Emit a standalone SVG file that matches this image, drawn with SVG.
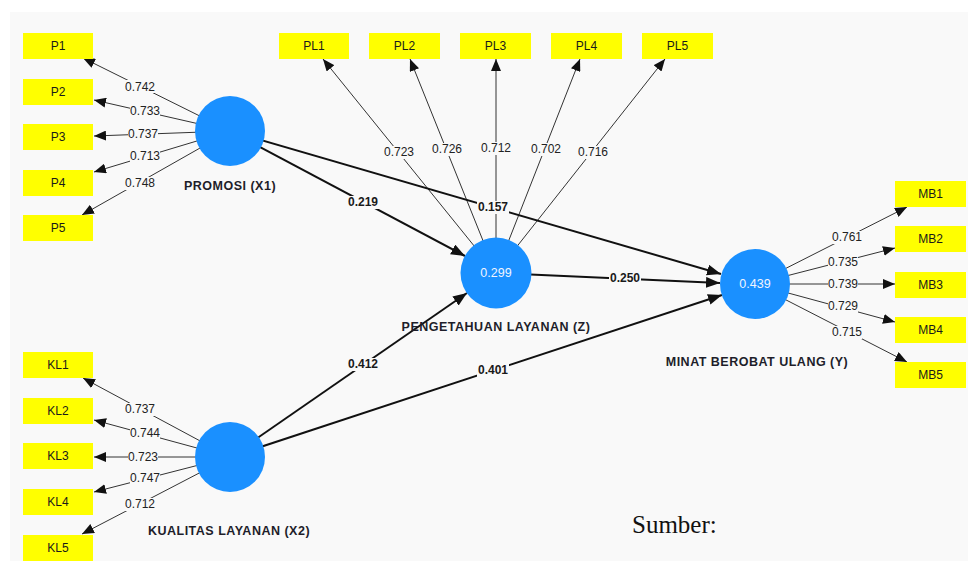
<svg xmlns="http://www.w3.org/2000/svg" width="968" height="561" viewBox="0 0 968 561">
  <style>
    .panel { fill: #f9f9f9; }
    .box { fill: #ffff00; }
    .boxtxt { font-family: "Liberation Sans", Arial, sans-serif; font-size: 12px; fill: #1a1a1a; text-anchor: middle; }
    .lv { fill: #1a90ff; }
    .lvtxt { font-family: "Liberation Sans", Arial, sans-serif; font-size: 12.5px; fill: #f0f4ff; text-anchor: middle; }
    .name { font-family: "Liberation Sans", Arial, sans-serif; font-size: 12.5px; font-weight: bold; letter-spacing: 0.5px; fill: #1e1e2a; text-anchor: middle; }
    .thin { stroke: #333; stroke-width: 1; fill: none; marker-end: url(#ah); }
    .thick { stroke: #111; stroke-width: 2; fill: none; marker-end: url(#ahb); }
    .lbl { font-family: "Liberation Sans", Arial, sans-serif; font-size: 12px; fill: #222; text-anchor: middle; }
    .lblb { font-family: "Liberation Sans", Arial, sans-serif; font-size: 12px; font-weight: bold; fill: #1a1a1a; text-anchor: middle; }
    .lbg { fill: #f9f9f9; }
    .src { font-family: "Liberation Serif", "Times New Roman", serif; font-size: 25px; fill: #111; }
  </style>
  <defs>
    <marker id="ah" markerUnits="userSpaceOnUse" markerWidth="12" markerHeight="10" viewBox="0 0 12 10" refX="12" refY="5" orient="auto">
      <path d="M0,0 L12,5 L0,10 Z" fill="#111"/>
    </marker>
    <marker id="ahb" markerUnits="userSpaceOnUse" markerWidth="14" markerHeight="11" viewBox="0 0 14 11" refX="14" refY="5.5" orient="auto">
      <path d="M0,0 L14,5.5 L0,11 Z" fill="#111"/>
    </marker>
  </defs>

  <rect class="panel" x="10" y="12" width="958" height="549"/>

  <!-- connectors: outer loadings and inner path coefficients -->
  <g id="connectors">
    <!-- PROMOSI (X1) loadings -->
    <line class="thin" x1="230" y1="131" x2="83" y2="58"/>
    <line class="thin" x1="230" y1="131" x2="94" y2="100"/>
    <line class="thin" x1="230" y1="131" x2="94" y2="136"/>
    <line class="thin" x1="230" y1="131" x2="94" y2="172"/>
    <line class="thin" x1="230" y1="131" x2="82" y2="215"/>
    <!-- KUALITAS LAYANAN (X2) loadings -->
    <line class="thin" x1="230" y1="457" x2="83" y2="378"/>
    <line class="thin" x1="230" y1="457" x2="94" y2="420"/>
    <line class="thin" x1="230" y1="457" x2="94" y2="457"/>
    <line class="thin" x1="230" y1="457" x2="94" y2="492"/>
    <line class="thin" x1="230" y1="457" x2="82" y2="534"/>
    <!-- PENGETAHUAN LAYANAN (Z) loadings -->
    <line class="thin" x1="496" y1="273" x2="323" y2="59"/>
    <line class="thin" x1="496" y1="273" x2="410" y2="59"/>
    <line class="thin" x1="496" y1="273" x2="496" y2="59"/>
    <line class="thin" x1="496" y1="273" x2="580" y2="59"/>
    <line class="thin" x1="496" y1="273" x2="665" y2="59"/>
    <!-- MINAT BEROBAT ULANG (Y) loadings -->
    <line class="thin" x1="755" y1="284" x2="907" y2="207"/>
    <line class="thin" x1="755" y1="284" x2="895" y2="248"/>
    <line class="thin" x1="755" y1="284" x2="895" y2="284"/>
    <line class="thin" x1="755" y1="284" x2="895" y2="322"/>
    <line class="thin" x1="755" y1="284" x2="907" y2="362"/>
    <!-- structural paths -->
    <line class="thick" x1="230" y1="131" x2="465" y2="256"/>
    <line class="thick" x1="230" y1="131" x2="721" y2="274"/>
    <line class="thick" x1="496" y1="273" x2="720" y2="283"/>
    <line class="thick" x1="230" y1="457" x2="467" y2="293"/>
    <line class="thick" x1="230" y1="457" x2="722" y2="295"/>

    <!-- loading labels -->
    <g>
      <rect class="lbg" x="125" y="80" width="30" height="13"/><text class="lbl" x="140" y="91">0.742</text>
      <rect class="lbg" x="130" y="105" width="30" height="13"/><text class="lbl" x="145" y="115">0.733</text>
      <rect class="lbg" x="128" y="128" width="30" height="13"/><text class="lbl" x="143" y="138">0.737</text>
      <rect class="lbg" x="130" y="150" width="30" height="13"/><text class="lbl" x="145" y="160">0.713</text>
      <rect class="lbg" x="125" y="177" width="30" height="13"/><text class="lbl" x="140" y="187">0.748</text>

      <rect class="lbg" x="125" y="403" width="30" height="13"/><text class="lbl" x="140" y="413">0.737</text>
      <rect class="lbg" x="130" y="427" width="30" height="13"/><text class="lbl" x="145" y="437">0.744</text>
      <rect class="lbg" x="128" y="451" width="30" height="13"/><text class="lbl" x="143" y="461">0.723</text>
      <rect class="lbg" x="130" y="472" width="30" height="13"/><text class="lbl" x="145" y="482">0.747</text>
      <rect class="lbg" x="125" y="498" width="30" height="13"/><text class="lbl" x="140" y="508">0.712</text>

      <rect class="lbg" x="384" y="146" width="30" height="13"/><text class="lbl" x="399" y="156">0.723</text>
      <rect class="lbg" x="432" y="143" width="30" height="13"/><text class="lbl" x="447" y="153">0.726</text>
      <rect class="lbg" x="481" y="142" width="30" height="13"/><text class="lbl" x="496" y="152">0.712</text>
      <rect class="lbg" x="531" y="143" width="30" height="13"/><text class="lbl" x="546" y="153">0.702</text>
      <rect class="lbg" x="578" y="146" width="30" height="13"/><text class="lbl" x="593" y="156">0.716</text>

      <rect class="lbg" x="832" y="231" width="30" height="13"/><text class="lbl" x="847" y="241">0.761</text>
      <rect class="lbg" x="828" y="256" width="30" height="13"/><text class="lbl" x="843" y="266">0.735</text>
      <rect class="lbg" x="828" y="278" width="30" height="13"/><text class="lbl" x="843" y="288">0.739</text>
      <rect class="lbg" x="828" y="300" width="30" height="13"/><text class="lbl" x="843" y="310">0.729</text>
      <rect class="lbg" x="832" y="326" width="30" height="13"/><text class="lbl" x="847" y="336">0.715</text>
    </g>
    <!-- path coefficient labels -->
    <g>
      <rect class="lbg" x="347" y="196" width="32" height="13"/><text class="lblb" x="363" y="206">0.219</text>
      <rect class="lbg" x="477" y="201" width="32" height="13"/><text class="lblb" x="493" y="211">0.157</text>
      <rect class="lbg" x="609" y="272" width="32" height="13"/><text class="lblb" x="625" y="282">0.250</text>
      <rect class="lbg" x="347" y="358" width="32" height="13"/><text class="lblb" x="363" y="368">0.412</text>
      <rect class="lbg" x="477" y="364" width="32" height="13"/><text class="lblb" x="493" y="374">0.401</text>
    </g>
  </g>

  <!-- indicators -->
  <g id="P1"><rect class="box" x="23" y="33" width="70" height="26"/><text class="boxtxt" x="58" y="50">P1</text></g>
  <g id="P2"><rect class="box" x="23" y="79" width="70" height="26"/><text class="boxtxt" x="58" y="96">P2</text></g>
  <g id="P3"><rect class="box" x="23" y="124" width="70" height="26"/><text class="boxtxt" x="58" y="141">P3</text></g>
  <g id="P4"><rect class="box" x="23" y="170" width="70" height="26"/><text class="boxtxt" x="58" y="187">P4</text></g>
  <g id="P5"><rect class="box" x="23" y="215" width="70" height="26"/><text class="boxtxt" x="58" y="232">P5</text></g>

  <g id="KL1"><rect class="box" x="23" y="352" width="70" height="26"/><text class="boxtxt" x="58" y="369">KL1</text></g>
  <g id="KL2"><rect class="box" x="23" y="398" width="70" height="26"/><text class="boxtxt" x="58" y="415">KL2</text></g>
  <g id="KL3"><rect class="box" x="23" y="443" width="70" height="26"/><text class="boxtxt" x="58" y="460">KL3</text></g>
  <g id="KL4"><rect class="box" x="23" y="489" width="70" height="26"/><text class="boxtxt" x="58" y="506">KL4</text></g>
  <g id="KL5"><rect class="box" x="23" y="535" width="70" height="26"/><text class="boxtxt" x="58" y="552">KL5</text></g>

  <g id="PL1"><rect class="box" x="279" y="33" width="70" height="26"/><text class="boxtxt" x="314" y="50">PL1</text></g>
  <g id="PL2"><rect class="box" x="369" y="33" width="71" height="26"/><text class="boxtxt" x="404.5" y="50">PL2</text></g>
  <g id="PL3"><rect class="box" x="460" y="33" width="71" height="26"/><text class="boxtxt" x="495.5" y="50">PL3</text></g>
  <g id="PL4"><rect class="box" x="551" y="33" width="71" height="26"/><text class="boxtxt" x="586.5" y="50">PL4</text></g>
  <g id="PL5"><rect class="box" x="642" y="33" width="71" height="26"/><text class="boxtxt" x="677.5" y="50">PL5</text></g>

  <g id="MB1"><rect class="box" x="895" y="181" width="71" height="26"/><text class="boxtxt" x="930.5" y="198">MB1</text></g>
  <g id="MB2"><rect class="box" x="895" y="226" width="71" height="26"/><text class="boxtxt" x="930.5" y="243">MB2</text></g>
  <g id="MB3"><rect class="box" x="895" y="272" width="71" height="26"/><text class="boxtxt" x="930.5" y="289">MB3</text></g>
  <g id="MB4"><rect class="box" x="895" y="317" width="71" height="26"/><text class="boxtxt" x="930.5" y="334">MB4</text></g>
  <g id="MB5"><rect class="box" x="895" y="362" width="71" height="26"/><text class="boxtxt" x="930.5" y="379">MB5</text></g>

  <!-- latent variables -->
  <g id="X1">
    <circle class="lv" cx="230" cy="131" r="35"/>
    <text class="name" x="230" y="190">PROMOSI (X1)</text>
  </g>
  <g id="X2">
    <circle class="lv" cx="230" cy="457" r="35"/>
    <text class="name" x="229" y="535">KUALITAS LAYANAN (X2)</text>
  </g>
  <g id="Z">
    <circle class="lv" cx="496" cy="273" r="35.5"/>
    <text class="lvtxt" x="496" y="277">0.299</text>
    <text class="name" x="496" y="331">PENGETAHUAN LAYANAN (Z)</text>
  </g>
  <g id="Y">
    <circle class="lv" cx="755" cy="284" r="35"/>
    <text class="lvtxt" x="755" y="288">0.439</text>
    <text class="name" x="757" y="366">MINAT BEROBAT ULANG (Y)</text>
  </g>

  <text class="src" x="632" y="533">Sumber:</text>
</svg>
